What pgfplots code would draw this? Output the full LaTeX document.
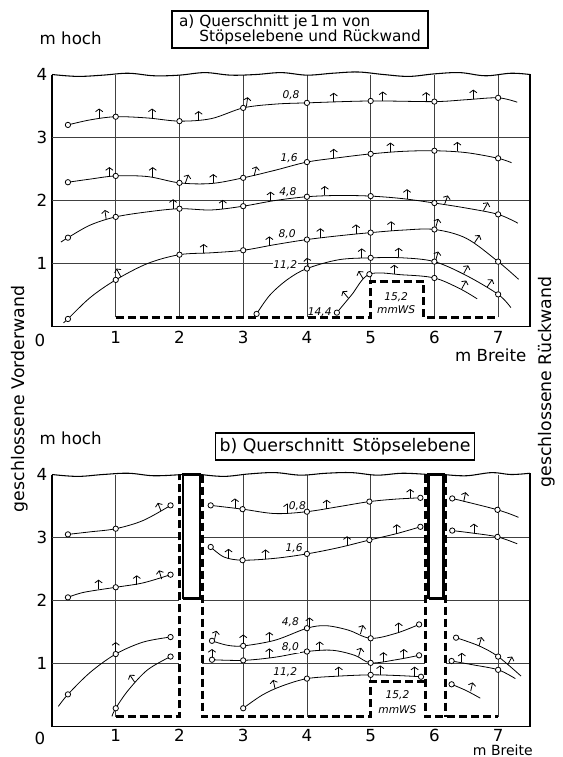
\documentclass[border=0pt]{standalone}
\usepackage{pgfplots}
\pgfplotsset{compat=1.18}
\usepackage{fontspec}
\setmainfont{DejaVu Sans}
\usetikzlibrary{arrows.meta}

\newcommand{\fs}[1]{\fontsize{#1}{#1}\selectfont}

\pgfplotsset{
  panel/.style={
    width=358.5pt, height=189pt, scale only axis,
    xmin=0, xmax=7.5, ymin=0, ymax=4,
    axis x line*=bottom, axis y line*=left, axis line style={-},
    x axis line style={line width=1.4pt},
    y axis line style={line width=2.2pt},
    xtick={1,...,7}, ytick={1,2,3,4}, major tick length=0pt,
    tick label style={font=\fs{12.5}},
    /pgf/number format/assume math mode=true,
    clip=false,
  },
  crv/.style={black, line width=0.6pt, smooth, tension=0.55},
  mk/.style={only marks, mark=*, mark size=2pt,
    mark options={draw=black, fill=white, line width=0.6pt}},
  arr/.style={black, line width=0.6pt,
    quiver={u=\thisrow{u}, v=\thisrow{v}},
    -{Straight Barb[length=2pt,width=5.5pt]}},
  grd/.style={black!75, line width=0.5pt, unbounded coords=jump},
  dsh/.style={black, line width=2.2pt, dash pattern=on 6pt off 3pt},
  wav/.style={black, line width=0.8pt, smooth, tension=0.6},
  frm/.style={black, line width=1.2pt},
}
\tikzset{cl/.style={font=\fs{8}\itshape, inner sep=0.6pt, fill=white}}

\begin{document}
\begin{tikzpicture}
\useasboundingbox (0,0) rectangle (421.5pt,-567.75pt);

% ---------------- a) ----------------
\begin{axis}[panel, at={(39pt,-244.875pt)}]
% grid
\addplot[grd] coordinates {(1,0.145)(1,4) (nan,nan) (2,0.145)(2,4) (nan,nan)
  (3,0.145)(3,4) (nan,nan) (4,0.145)(4,4) (nan,nan) (5,0.72)(5,4) (nan,nan)
  (6,0.145)(6,4) (nan,nan) (7,0.145)(7,4)};
\addplot[grd] coordinates {(0,1)(7.5,1) (nan,nan) (0,2)(7.5,2) (nan,nan) (0,3)(7.5,3)};
\addplot[frm] coordinates {(7.5,0)(7.5,4.01)};
\addplot[wav] coordinates {(0,4.0)(0.4,3.97)(0.8,3.99)(1.2,4.02)(1.6,3.98)(2.0,3.99)
  (2.4,4.03)(2.8,3.99)(3.2,4.0)(3.6,4.03)(4.0,3.99)(4.4,4.02)(4.8,4.04)(5.2,4.0)
  (5.6,3.97)(6.0,4.01)(6.4,4.03)(6.8,3.98)(7.2,4.02)(7.5,4.0)};
% dashed outline
\addplot[dsh] coordinates {(1,0.145)(5,0.145)(5,0.72)(5.83,0.72)(5.83,0.145)(7,0.145)};
% curves
\addplot[crv] coordinates {(0.25,3.20)(0.6,3.28)(1,3.33)(1.5,3.31)(2,3.26)(2.5,3.30)
  (3,3.47)(3.5,3.53)(4,3.55)(5,3.58)(6,3.57)(6.5,3.60)(7,3.63)(7.3,3.56)};
\addplot[crv] coordinates {(0.25,2.29)(0.6,2.34)(1,2.39)(1.5,2.38)(2,2.28)(2.5,2.27)
  (3,2.36)(3.5,2.48)(4,2.61)(4.5,2.68)(5,2.74)(5.5,2.78)(6,2.79)(6.5,2.76)(7,2.67)(7.21,2.60)};
\addplot[crv] coordinates {(0.14,1.34)(0.25,1.41)(0.6,1.61)(1,1.74)(1.5,1.82)(2,1.87)
  (2.5,1.85)(3,1.91)(3.5,2.0)(4,2.06)(4.5,2.08)(5,2.07)(5.5,2.03)(6,1.96)(6.5,1.88)
  (7,1.78)(7.31,1.64)};
\addplot[crv] coordinates {(0.18,0.06)(0.25,0.12)(0.6,0.46)(1,0.74)(1.5,1.0)(2,1.14)
  (2.5,1.17)(3,1.21)(3.5,1.30)(4,1.38)(4.5,1.44)(5,1.49)(5.5,1.53)(6,1.54)(6.5,1.40)
  (7,1.03)(7.32,0.75)};
\addplot[crv] coordinates {(3.21,0.20)(3.42,0.50)(3.7,0.75)(4,0.92)(4.5,1.06)(5,1.09)
  (5.5,1.09)(6,1.03)(6.5,0.81)(7,0.51)(7.2,0.30)};
\addplot[crv] coordinates {(4.47,0.22)(4.7,0.5)(4.98,0.83)(5.5,0.82)(6,0.77)(6.4,0.6)(6.67,0.44)};
% arrows
\addplot[arr] table {
x y u v
0.74 3.31 0 0.15
1.57 3.31 0 0.15
2.30 3.27 0 0.15
3.05 3.49 0.02 0.15
4.42 3.56 0 0.15
5.19 3.58 0 0.15
5.87 3.57 0 0.15
6.61 3.61 0 0.15
0.90 2.38 0 0.15
1.58 2.38 0 0.15
2.09 2.27 0.05 0.14
2.53 2.27 0 0.15
3.17 2.39 0.04 0.15
4.42 2.67 0 0.15
5.31 2.77 0 0.15
6.36 2.78 0 0.15
0.85 1.70 -0.02 0.15
1.90 1.87 0 0.15
2.68 1.86 0 0.15
3.43 1.99 0 0.15
4.28 2.08 0 0.15
5.57 2.03 0 0.15
6.16 1.94 0.05 0.14
6.77 1.84 0.07 0.13
1.08 0.79 -0.07 0.13
2.38 1.16 0 0.15
3.41 1.28 0 0.15
4.21 1.41 0 0.15
4.77 1.47 0 0.15
5.32 1.52 0 0.15
6.02 1.57 0.04 0.14
6.63 1.33 0.08 0.12
4.02 0.95 -0.02 0.14
4.86 1.09 0 0.15
5.44 1.10 0 0.15
6.02 1.05 0.04 0.14
6.46 0.84 0.07 0.13
6.83 0.63 0.08 0.12
4.65 0.45 -0.09 0.11
4.88 0.76 -0.07 0.12
5.37 0.83 0 0.15
6.43 0.60 0.07 0.13
};
% measuring points
\addplot[mk] coordinates {(0.25,3.20)(1,3.33)(2,3.26)(3,3.47)(4,3.55)(5,3.58)(6,3.57)(7,3.63)
  (0.25,2.29)(1,2.39)(2,2.28)(3,2.36)(4,2.61)(5,2.74)(6,2.79)(7,2.67)
  (0.25,1.41)(1,1.74)(2,1.87)(3,1.91)(4,2.06)(5,2.07)(6,1.96)(7,1.78)
  (0.25,0.12)(1,0.74)(2,1.14)(3,1.21)(4,1.38)(5,1.49)(6,1.54)(7,1.03)
  (3.21,0.20)(4,0.92)(5,1.09)(6,1.03)(7,0.51)
  (4.47,0.22)(4.98,0.83)(6,0.77)};
% labels
\node[cl] at (3.75,3.68) {0,8};
\node[cl] at (3.72,2.68) {1,6};
\node[cl] at (3.70,2.14) {4,8};
\node[cl] at (3.69,1.46) {8,0};
\node[cl] at (3.66,0.98) {11,2};
\node[cl, fill=none] at (4.2,0.23) {14,4};
\node[cl, fill=none] at (5.4,0.47) {15,2};
\node[cl, fill=none] at (5.4,0.27) {mmWS};
\end{axis}

% ---------------- b) ----------------
\begin{axis}[panel, at={(39pt,-544.875pt)}, xticklabel style={yshift=1.5pt}]
\addplot[grd] coordinates {(1,0.155)(1,4) (nan,nan) (3,0.29)(3,4) (nan,nan)
  (4,0.155)(4,4) (nan,nan) (5,0.71)(5,4) (nan,nan) (7,0.155)(7,4)};
\addplot[grd] coordinates {(0,1)(2,1) (nan,nan) (2.36,1)(5.86,1) (nan,nan) (6.18,1)(7.5,1)
  (nan,nan) (0,2)(2,2) (nan,nan) (2.36,2)(5.86,2) (nan,nan) (6.18,2)(7.5,2)
  (nan,nan) (0,3)(2,3) (nan,nan) (2.36,3)(5.86,3) (nan,nan) (6.18,3)(7.5,3)};
\addplot[frm] coordinates {(7.5,0)(7.5,4.02)};
\addplot[wav] coordinates {(0,4.0)(0.4,3.97)(0.8,4.0)(1.2,4.02)(1.6,3.98)(2.04,4.0)};
\addplot[wav] coordinates {(2.34,4.0)(2.7,3.97)(3.1,4.01)(3.5,4.03)(3.9,3.99)(4.3,4.02)
  (4.7,4.03)(5.1,3.99)(5.5,4.02)(5.9,4.0)};
\addplot[wav] coordinates {(6.15,4.0)(6.5,3.98)(6.9,4.03)(7.2,4.0)(7.5,4.02)};
% dashed
\addplot[dsh] coordinates {(1,0.155)(2.0,0.155)(2.0,4.0)};
\addplot[dsh] coordinates {(2.36,4.0)(2.36,0.155)(5.0,0.155)(5.0,0.71)(5.86,0.71)};
\addplot[dsh] coordinates {(5.86,4.0)(5.86,0.155)(7.0,0.155)};
\addplot[dsh] coordinates {(6.18,4.0)(6.18,0.155)};
% columns
\addplot[black, line width=1.8pt, fill=white] coordinates {(2.06,2.03)(2.32,2.03)(2.32,4.0)(2.06,4.0)(2.06,2.03)};
\addplot[black, line width=1.8pt, fill=white] coordinates {(5.91,2.03)(6.14,2.03)(6.14,4.0)(5.91,4.0)(5.91,2.03)};
% curves left
\addplot[crv] coordinates {(0.25,3.05)(0.6,3.09)(1,3.14)(1.43,3.27)(1.86,3.51)};
\addplot[crv] coordinates {(0.25,2.05)(0.5,2.13)(1,2.21)(1.43,2.28)(1.86,2.41)};
\addplot[crv] coordinates {(0.1,0.32)(0.25,0.51)(0.6,0.86)(1,1.15)(1.43,1.34)(1.86,1.42)};
\addplot[crv] coordinates {(0.94,0.16)(1,0.29)(1.2,0.58)(1.5,0.9)(1.86,1.11)};
% curves middle
\addplot[crv] coordinates {(2.49,3.51)(2.99,3.45)(3.5,3.38)(4,3.41)(4.5,3.49)(4.98,3.57)(5.4,3.61)(5.78,3.63)};
\addplot[crv] coordinates {(2.49,2.85)(2.7,2.69)(2.99,2.64)(3.5,2.67)(4,2.74)(4.5,2.84)(4.98,2.96)(5.4,3.06)(5.78,3.17)};
\addplot[crv] coordinates {(2.51,1.36)(2.75,1.29)(3,1.28)(3.5,1.37)(4,1.56)(4.3,1.60)(4.65,1.53)(5,1.40)(5.4,1.48)(5.76,1.62)};
\addplot[crv] coordinates {(2.51,1.06)(3,1.05)(3.5,1.10)(4,1.19)(4.4,1.21)(4.75,1.13)(5,1.01)(5.4,1.06)(5.76,1.13)};
\addplot[crv] coordinates {(3,0.29)(3.3,0.5)(3.6,0.64)(4,0.76)(4.5,0.80)(5,0.82)(5.4,0.81)(5.79,0.79)};
% curves right
\addplot[crv] coordinates {(6.28,3.62)(6.99,3.44)(7.32,3.32)};
\addplot[crv] coordinates {(6.28,3.11)(6.6,3.07)(6.99,3.01)(7.3,2.90)};
\addplot[crv] coordinates {(6.34,1.41)(6.7,1.28)(7.0,1.11)(7.36,0.80)};
\addplot[crv] coordinates {(6.27,1.04)(6.6,0.98)(7.0,0.90)(7.27,0.76)};
\addplot[crv] coordinates {(6.27,0.67)(6.5,0.57)(6.72,0.45)};
% arrows
\addplot[arr] table {
x y u v
1.71 3.42 -0.05 0.13
0.73 2.18 0 0.15
1.33 2.25 0 0.15
1.72 2.34 -0.04 0.14
1.00 1.19 0 0.15
1.30 0.70 -0.08 0.12
2.87 3.47 0 0.15
3.69 3.39 0 0.15
4.31 3.45 0 0.15
5.62 3.62 0 0.15
2.77 2.67 0 0.15
3.35 2.66 0 0.15
4.63 2.87 0 0.15
5.41 3.06 0 0.15
2.55 1.38 0.03 0.14
3.00 1.31 0 0.15
3.41 1.35 0 0.15
4.04 1.58 0 0.15
4.84 1.47 0.04 0.14
5.44 1.50 0 0.15
2.51 1.09 0 0.14
3.41 1.09 0 0.15
4.20 1.20 0 0.15
4.81 1.11 0.04 0.14
5.20 1.03 0 0.15
5.52 1.08 0 0.15
3.50 0.60 -0.03 0.14
4.50 0.80 0 0.15
5.15 0.82 0 0.15
5.69 0.80 0 0.15
6.46 3.57 0.03 0.15
6.62 3.07 0 0.15
6.70 1.28 0.04 0.14
7.15 0.98 0.07 0.13
6.43 1.02 0 0.15
6.57 0.56 0.03 0.14
};
\addplot[mk] coordinates {(0.25,3.05)(1,3.14)(1.86,3.51)
  (0.25,2.05)(1,2.21)(1.86,2.41)
  (0.25,0.51)(1,1.15)(1.86,1.42)
  (1,0.29)(1.86,1.11)
  (2.49,3.51)(2.99,3.45)(4,3.41)(4.98,3.57)(5.78,3.63)
  (2.49,2.85)(2.99,2.64)(4,2.74)(4.98,2.96)(5.78,3.17)
  (2.51,1.36)(3,1.28)(4,1.56)(5,1.40)(5.76,1.62)
  (2.51,1.06)(3,1.05)(4,1.19)(5,1.01)(5.76,1.13)
  (3,0.29)(4,0.76)(5,0.82)(5.79,0.79)
  (6.28,3.62)(6.99,3.44)(6.28,3.11)(6.99,3.01)
  (6.34,1.41)(7,1.11)(6.27,1.04)(7,0.90)(6.27,0.67)};
\node[cl] at (3.85,3.50) {0,8};
\node[cl] at (3.80,2.83) {1,6};
\node[cl] at (3.74,1.65) {4,8};
\node[cl] at (3.74,1.26) {8,0};
\node[cl] at (3.66,0.86) {11,2};
\node[cl, fill=none] at (5.42,0.49) {15,2};
\node[cl, fill=none] at (5.42,0.27) {mmWS};
\end{axis}

% ---------------- texts outside the axes (pixel grid) ----------------
\begin{scope}[x=0.75pt, y=-0.75pt]
\node[draw, line width=0.8pt, minimum width=192pt, minimum height=27.75pt,
  align=left, inner xsep=3pt, inner ysep=1.5pt, font=\fontsize{11.5}{11.5}\selectfont]
  at (300,29.5) {a) Querschnitt je\,1\,m von\\\phantom{a) }Stöpselebene und Rückwand};
\node[draw, line width=0.8pt, minimum width=192pt, minimum height=20.25pt,
  font=\fs{13}] at (345,446.5) {b) Querschnitt\, Stöpselebene};
\node[anchor=west, font=\fs{12.5}] at (35,38) {m hoch};
\node[anchor=west, font=\fs{12.5}] at (35,438) {m hoch};
\node[font=\fs{12.5}] at (40,340) {0};
\node[font=\fs{12.5}] at (40,738) {0};
\node[anchor=east, font=\fs{12.5}] at (531,355) {m Breite};
\node[anchor=base east, inner sep=0pt, font=\fs{10.5}] at (533,755.5) {m Breite};
\node[rotate=90, font=\fs{13}] at (20,399) {geschlossene Vorderwand};
\node[rotate=90, font=\fs{13}] at (547,382) {geschlossene Rückwand};
\end{scope}
\end{tikzpicture}
\end{document}
